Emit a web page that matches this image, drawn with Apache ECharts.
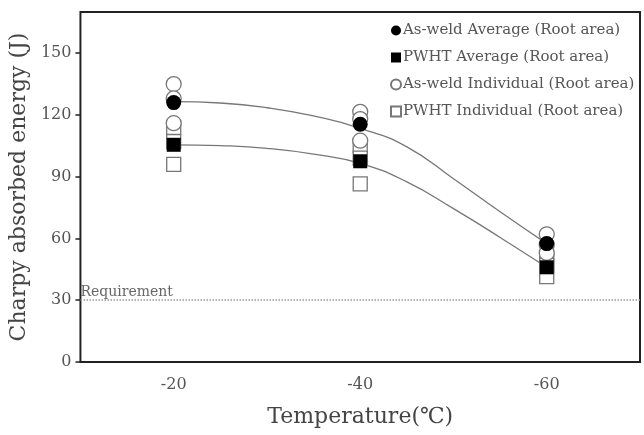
<!DOCTYPE html>
<html>
<head>
<meta charset="utf-8">
<script src="https://cdn.jsdelivr.net/npm/echarts@6/dist/echarts.min.js"></script>
<style>
  html, body { margin: 0; padding: 0; background: #fff; }
  #main { width: 644px; height: 435px; }
</style>
</head>
<body>
<div id="main"></div>
<script>
// test temperatures (C) and values
var temps = [-20, -40, -60];
var xTicks = [-20, -40, -60];
var yTicks = [0, 30, 60, 90, 120, 150];

var asWeldAvg = [126, 115.5, 57.5];
var pwhtAvg = [105.5, 97.5, 46];
var asWeldInd = [[135, 128, 116], [121.5, 118, 107.5], [62, 57, 53]];
var pwhtInd = [[114, 107, 96], [105, 99, 86.5], [49, 47, 41.5]];

// fitted trend curves
var fitTemps = [-20, -25, -30, -35, -40, -45, -50, -55, -60];
var asWeldFit = [126.5, 125.8, 123.5, 119.5, 113.5, 104.5, 89, 73, 57.5];
var pwhtFit = [105.5, 105.1, 103.8, 101, 96.5, 87.5, 74.5, 60.5, 46];

var requirement = 30;

var names = [
    'As-weld Average (Root area)',
    'PWHT Average (Root area)',
    'As-weld Individual (Root area)',
    'PWHT Individual (Root area)'
];

function pairs(xs, ys) {
    return xs.map(function (x, i) { return [x, ys[i]]; });
}
function spread(xs, groups) {
    var out = [];
    groups.forEach(function (g, i) {
        g.forEach(function (v) { out.push([xs[i], v]); });
    });
    return out;
}

var font = '"DejaVu Serif", "Liberation Serif", serif';
var myChart = echarts.init(document.getElementById('main'));

var option = {
    animation: false,
    backgroundColor: '#fff',
    grid: {
        left: 77,
        right: 4,
        top: 12,
        bottom: 73,
        show: true,
        borderColor: '#222',
        borderWidth: 2
    },
    legend: {
        data: names,
        orient: 'vertical',
        left: 385,
        top: 18,
        itemWidth: 10,
        itemHeight: 10,
        itemGap: 12,
        textStyle: { fontFamily: font, fontSize: 15, color: '#555', padding: [0, 0, 0, -3] }
    },
    xAxis: {
        type: 'value',
        inverse: true,
        min: -70,
        max: -10,
        interval: 10,
        axisLine: { show: false },
        axisTick: { show: false },
        splitLine: { show: false },
        axisLabel: {
            customValues: xTicks,
            margin: 15,
            fontFamily: font,
            fontSize: 16,
            color: '#555'
        },
        name: 'Temperature(℃)',
        nameLocation: 'middle',
        nameGap: 44,
        nameTextStyle: { fontFamily: font, fontSize: 22, color: '#444' }
    },
    yAxis: {
        type: 'value',
        min: 0,
        max: 170,
        interval: 30,
        axisLine: { show: false },
        axisTick: {
            show: true,
            customValues: yTicks,
            length: 5,
            lineStyle: { color: '#222', width: 1.5 }
        },
        splitLine: { show: false },
        axisLabel: {
            customValues: yTicks,
            margin: 9,
            fontFamily: font,
            fontSize: 16,
            color: '#555'
        },
        name: 'Charpy absorbed energy (J)',
        nameLocation: 'middle',
        nameGap: 49,
        nameTextStyle: { fontFamily: font, fontSize: 22, color: '#444' }
    },
    series: [
        {
            name: 'asWeldFit',
            type: 'line',
            smooth: 0.5,
            symbol: 'none',
            silent: true,
            z: 1,
            lineStyle: { color: '#777', width: 1.3 },
            data: pairs(fitTemps, asWeldFit),
            markLine: {
                silent: true,
                symbol: 'none',
                lineStyle: { type: 'dotted', color: '#999', width: 1.5 },
                label: {
                    position: 'insideEndTop',
                    formatter: 'Requirement',
                    fontFamily: font,
                    fontSize: 14,
                    color: '#666',
                    distance: [0, 1]
                },
                data: [{ yAxis: requirement }]
            }
        },
        {
            name: 'pwhtFit',
            type: 'line',
            smooth: 0.5,
            symbol: 'none',
            silent: true,
            z: 1,
            lineStyle: { color: '#777', width: 1.3 },
            data: pairs(fitTemps, pwhtFit)
        },
        {
            name: names[3],
            type: 'scatter',
            symbol: 'rect',
            symbolSize: 14,
            z: 2,
            itemStyle: { color: '#fff', borderColor: '#777', borderWidth: 1.3, opacity: 1 },
            data: spread(temps, pwhtInd)
        },
        {
            name: names[2],
            type: 'scatter',
            symbol: 'circle',
            symbolSize: 15,
            z: 3,
            itemStyle: { color: '#fff', borderColor: '#777', borderWidth: 1.3, opacity: 1 },
            data: spread(temps, asWeldInd)
        },
        {
            name: names[1],
            type: 'scatter',
            symbol: 'rect',
            symbolSize: 14,
            z: 4,
            itemStyle: { color: '#000', opacity: 1 },
            data: pairs(temps, pwhtAvg)
        },
        {
            name: names[0],
            type: 'scatter',
            symbol: 'circle',
            symbolSize: 15,
            z: 5,
            itemStyle: { color: '#000', opacity: 1 },
            data: pairs(temps, asWeldAvg)
        }
    ]
};

myChart.setOption(option);
</script>
</body>
</html>
